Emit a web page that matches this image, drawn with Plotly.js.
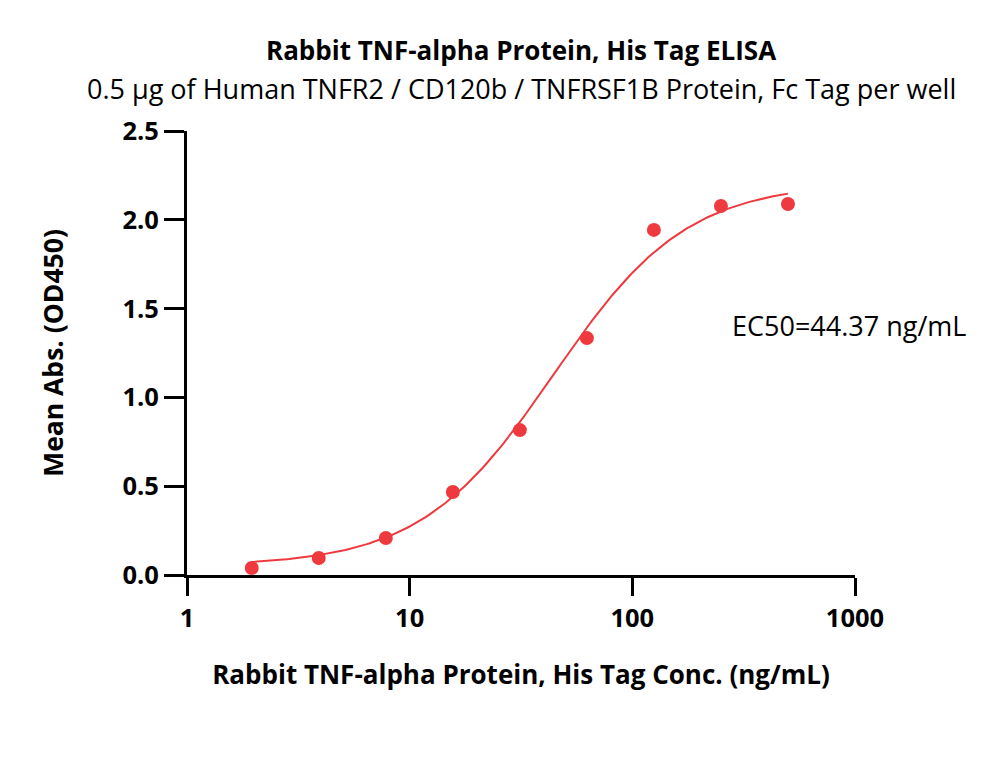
<!DOCTYPE html>
<html>
<head>
<meta charset="utf-8">
<script src="https://cdn.plot.ly/plotly-3.0.1.min.js"></script>
<style>
  html, body { margin: 0; padding: 0; background: #fff; }
  #chart { width: 1000px; height: 764px; }
</style>
</head>
<body>
<div id="chart"></div>
<script>
// Measured concentrations (ng/mL) and mean OD450 readings
const concentrations = [1.953, 3.906, 7.813, 15.63, 31.25, 62.5, 125, 250, 500];
const meanAbs = [0.039, 0.096, 0.208, 0.467, 0.816, 1.334, 1.943, 2.078, 2.089];

// Four-parameter logistic fit parameters
const ec50 = 44.37;
const fitBottom = 0.05;
const fitTop = 2.21;
const fitHill = 1.45;

const xTickVals = [1, 10, 100, 1000];
const xTickText = ['1', '10', '100', '1000'];
const yTickVals = [0, 0.5, 1.0, 1.5, 2.0, 2.5];
const yTickText = ['0.0', '0.5', '1.0', '1.5', '2.0', '2.5'];

const titleText = 'Rabbit TNF-alpha Protein, His Tag ELISA';
const subtitleText = '0.5 µg of Human TNFR2 / CD120b / TNFRSF1B Protein, Fc Tag per well';
const xTitle = 'Rabbit TNF-alpha Protein, His Tag Conc. (ng/mL)';
const yTitle = 'Mean Abs. (OD450)';

// Sample the fitted curve across the measured range on a log grid
function logistic(x) {
  return fitBottom + (fitTop - fitBottom) / (1 + Math.pow(ec50 / x, fitHill));
}
const fitX = [];
const fitY = [];
const lo = Math.log10(concentrations[0]);
const hi = Math.log10(concentrations[concentrations.length - 1]);
for (let i = 0; i <= 200; i++) {
  const x = Math.pow(10, lo + (hi - lo) * i / 200);
  fitX.push(x);
  fitY.push(logistic(x));
}

const red = '#EE3A3F';
const fontFamily = '"Open Sans", "Noto Sans", sans-serif';

const traces = [
  {
    x: fitX, y: fitY, type: 'scatter', mode: 'lines',
    line: { color: red, width: 2 }, hoverinfo: 'skip', showlegend: false
  },
  {
    x: concentrations, y: meanAbs, type: 'scatter', mode: 'markers',
    marker: { color: red, size: 14 }, showlegend: false, cliponaxis: false
  }
];

const layout = {
  width: 1000, height: 764,
  paper_bgcolor: '#fff', plot_bgcolor: '#fff',
  margin: { l: 187, r: 145, t: 131, b: 189 },
  font: { family: fontFamily, color: '#000', size: 22 },
  showlegend: false,
  xaxis: {
    type: 'log', range: [0, 3],
    tickvals: xTickVals, ticktext: xTickText,
    ticks: 'outside', ticklen: 18, tickwidth: 3, tickcolor: '#000',
    showline: true, linewidth: 3, linecolor: '#000',
    showgrid: false, zeroline: false,
    tickfont: { family: fontFamily, size: 25.5, color: '#000', weight: 'bold' },
    title: { text: xTitle, standoff: 34, font: { family: fontFamily, size: 26, color: '#000', weight: 'bold' } }
  },
  yaxis: {
    range: [0, 2.5],
    tickvals: yTickVals, ticktext: yTickText,
    ticks: 'outside', ticklen: 20, tickwidth: 3, tickcolor: '#000',
    showline: true, linewidth: 3, linecolor: '#000',
    showgrid: false, zeroline: false,
    tickfont: { family: fontFamily, size: 25.5, color: '#000', weight: 'bold' },
    title: { text: yTitle, standoff: 52, font: { family: fontFamily, size: 26.5, color: '#000', weight: 'bold' } }
  },
  annotations: [
    {
      text: '<b>' + titleText + '</b>', xref: 'paper', yref: 'paper',
      x: 0.5, y: 1, xanchor: 'center', yanchor: 'middle',
      xshift: (521 - (187 + 334)), yshift: 131 - 50,
      showarrow: false, font: { family: fontFamily, size: 26, color: '#000' }
    },
    {
      text: subtitleText, xref: 'paper', yref: 'paper',
      x: 0.5, y: 1, xanchor: 'center', yanchor: 'middle',
      xshift: (521 - (187 + 334)), yshift: 131 - 88,
      showarrow: false, font: { family: fontFamily, size: 27, color: '#000' }
    },
    {
      text: 'EC50=' + ec50.toFixed(2) + ' ng/mL', xref: 'paper', yref: 'paper',
      x: 1, y: 1, xanchor: 'right', yanchor: 'middle',
      xshift: 968 - 855, yshift: -(325 - 131),
      showarrow: false, font: { family: fontFamily, size: 27, color: '#000' }
    }
  ]
};

Plotly.newPlot('chart', traces, layout, { staticPlot: true, displayModeBar: false });
</script>
</body>
</html>
